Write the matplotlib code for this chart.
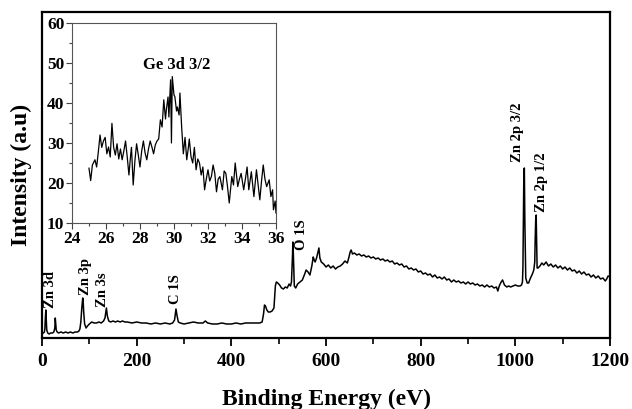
import matplotlib
matplotlib.use("Agg")
import matplotlib.pyplot as plt

plt.rcParams['font.family'] = ['Liberation Serif', 'DejaVu Serif']
plt.rcParams['font.weight'] = 'bold'

# survey spectrum (binding energy in eV, intensity in arbitrary units)
survey_ev = [
    0, 3, 5, 6, 7, 8, 9, 10, 12, 15,
    18, 22, 25, 27, 28, 29, 30, 32, 35, 40,
    45, 50, 55, 60, 65, 70, 75, 78, 80, 82,
    84, 86, 87, 88, 90, 93, 96, 100, 105, 110,
    115, 120, 125, 130, 133, 135, 136, 138, 141, 145,
    150, 155, 160, 165, 170, 175, 180, 190, 200, 210,
    220, 230, 240, 250, 260, 270, 276, 280, 283, 285,
    288, 292, 300, 310, 320, 330, 340, 345, 350, 360,
    370, 380, 390, 400, 410, 420, 430, 440, 450, 460,
    465, 468, 470, 472, 475, 478, 482, 486, 490, 493,
    495, 498, 502, 506, 510, 514, 518, 522, 525, 527,
    529, 530, 531, 533, 536, 540, 545, 550, 555, 558,
    562, 566, 570, 573, 575, 577, 580, 583, 585, 587,
    590, 595, 600, 605, 610, 615, 620, 625, 630, 635,
    640, 645, 648, 651, 653, 656, 660, 665, 670, 675,
    680, 685, 690, 695, 700, 705, 710, 715, 720, 725,
    730, 735, 740, 745, 750, 755, 760, 765, 770, 775,
    780, 785, 790, 795, 800, 805, 810, 815, 820, 825,
    830, 835, 840, 845, 850, 855, 860, 865, 870, 875,
    880, 885, 890, 895, 900, 905, 910, 915, 920, 925,
    930, 935, 940, 945, 950, 955, 960,
    963, 966, 970, 973, 977, 982, 986, 990, 995, 1000,
    1005, 1010, 1013, 1015, 1016, 1017, 1018, 1019, 1020, 1022,
    1025, 1028, 1032, 1036, 1039, 1041, 1042, 1043, 1044, 1045,
    1046, 1048, 1052, 1056, 1060, 1065, 1070, 1075, 1080, 1085,
    1090, 1095, 1100, 1105, 1110, 1115, 1120, 1125, 1130, 1135,
    1140, 1145, 1150, 1155, 1160, 1165, 1170, 1175, 1180, 1185,
    1190, 1193, 1196, 1200,
]
survey_counts = [
    5, 5, 6, 9, 20, 28, 18, 8, 5, 4,
    5, 5, 6, 10, 20, 14, 8, 6, 5, 6,
    5, 6, 5, 6, 5, 6, 6, 7, 9, 16,
    30, 40, 36, 26, 14, 10, 12, 14, 16, 15,
    15, 16, 15, 17, 20, 27, 30, 22, 17, 16,
    17, 16, 17, 16, 17, 16, 16, 15, 16, 15,
    15, 14, 15, 14, 15, 14, 15, 18, 29, 23,
    16, 15, 14, 15, 16, 15, 15, 17, 15, 14,
    14, 15, 14, 14, 15, 14, 15, 15, 15, 15,
    16, 24, 33, 32, 28, 26, 26, 27, 30, 52,
    56, 55, 53, 50, 49, 51, 50, 54, 52, 56,
    80, 96, 84, 52, 50, 54, 56, 58, 64, 68,
    66, 63, 72, 81, 78, 76, 80, 86, 90, 80,
    76, 74, 71, 73, 70, 72, 69, 71, 72, 74,
    77, 75, 80, 86, 88, 84, 85, 83, 84, 82,
    83, 81, 82, 80, 81, 79, 80, 78, 79, 77,
    78, 76, 77, 74, 75, 73, 74, 71, 72, 69,
    70, 68, 69, 66, 67, 64, 65, 63, 64, 61,
    63, 60, 61, 59, 61, 58, 59, 56, 58, 56,
    57, 55, 56, 54, 56, 54, 55, 53, 54, 52,
    53, 51, 53, 51, 52, 50, 51,
    47, 52, 56, 58, 53, 51, 52, 51, 52, 53,
    52, 52, 53, 56, 70, 120, 165, 170, 120, 60,
    55, 55, 60, 64, 68, 76, 100, 118, 123, 95,
    70, 70, 72, 75, 73, 76, 72, 74, 71, 73,
    70, 72, 69, 71, 68, 70, 67, 68, 65, 67,
    64, 66, 63, 64, 61, 63, 60, 62, 59, 60,
    57, 59, 62, 61,
]

# peak labels: text, x (eV), y (bottom of text)
peak_names = ["Zn 3d", "Zn 3p", "Zn 3s", "C 1S", "O 1S", "Zn 2p 3/2", "Zn 2p 1/2"]
peak_x = [18, 92, 128, 283, 549, 1005, 1055]
peak_y = [30, 43, 31, 34, 88, 176, 126]

# Ge 3d inset
ge_ev = [
    25.0, 25.1, 25.2, 25.35, 25.45, 25.55, 25.65, 25.75, 25.85, 25.95,
    26.05, 26.15, 26.25, 26.35, 26.45, 26.55, 26.65, 26.75, 26.85, 26.95,
    27.05, 27.15, 27.25, 27.35, 27.45, 27.5, 27.6, 27.7, 27.8, 27.9,
    28.0, 28.1, 28.2, 28.3, 28.4, 28.5, 28.6, 28.7, 28.8, 28.9,
    29.0, 29.1, 29.2, 29.3, 29.4, 29.5, 29.55, 29.65, 29.7, 29.8,
    29.85, 29.9, 30.0, 30.05, 30.15, 30.2, 30.3, 30.35, 30.45, 30.55,
    30.65, 30.75, 30.85, 30.9, 31.0, 31.1, 31.2, 31.3, 31.4, 31.5,
    31.6, 31.7, 31.8, 31.9, 32.0, 32.1, 32.2, 32.3, 32.4, 32.5,
    32.6, 32.7, 32.85, 32.95, 33.05, 33.15, 33.25, 33.4, 33.5, 33.6,
    33.75, 33.85, 33.95, 34.1, 34.2, 34.3, 34.4, 34.55, 34.7, 34.85,
    34.95, 35.05, 35.15, 35.25, 35.35, 35.45, 35.6, 35.7, 35.8, 35.85,
    35.95, 36.0,
]
ge_counts = [
    23.7, 20.6, 24.5, 25.8, 24.0, 27.8, 32.0, 28.9, 30.5, 31.4,
    27.3, 29.0, 26.5, 34.9, 28.9, 27.0, 29.8, 26.0, 28.5, 25.8,
    28.0, 30.5, 26.5, 22.0, 27.0, 28.9, 19.5, 25.5, 29.8, 27.0,
    24.0, 28.0, 30.5, 27.5, 25.8, 28.5, 30.5, 29.0, 27.3, 29.5,
    30.5, 31.0, 35.8, 34.0, 40.8, 36.0, 38.3, 41.5, 36.5, 45.8,
    30.0, 46.6, 42.0, 41.6, 38.0, 39.0, 37.0, 42.5, 34.0, 27.3,
    31.4, 25.8, 29.0, 31.0, 26.6, 25.0, 28.9, 23.3, 26.0, 25.0,
    22.0, 24.0, 18.3, 21.0, 23.3, 20.5, 21.6, 24.5, 22.4, 17.8,
    21.0, 21.6, 18.3, 23.0, 22.4, 19.0, 15.0, 21.6, 19.5, 25.0,
    19.1, 21.0, 22.4, 18.3, 21.0, 24.0, 18.3, 22.8, 16.6, 23.3,
    19.5, 15.8, 20.5, 24.5, 21.0, 19.1, 20.8, 16.6, 18.3, 13.3,
    15.5, 12.5,
]
ge_label = "Ge 3d 3/2"

fig = plt.figure(figsize=(6.32, 4.09), dpi=100)
ax = fig.add_axes([0.0665, 0.1736, 0.8987, 0.7971])
ax.plot(survey_ev, survey_counts, color='black', lw=1.1)
ax.set_xlim(0, 1200)
ax.set_ylim(0, 326)
ax.set_xticks(range(0, 1201, 200))
ax.set_xticks(range(100, 1200, 200), minor=True)
ax.set_yticks([])
ax.tick_params(axis='x', which='major', direction='out', length=6, width=1.3,
               labelsize=14, pad=5)
ax.tick_params(axis='x', which='minor', direction='out', length=4, width=1.2)
for lab in ax.get_xticklabels():
    lab.set_fontweight('bold')
for sp in ax.spines.values():
    sp.set_linewidth(1.6)
ax.set_xlabel("Binding Energy (eV)", fontsize=17, fontweight='bold', labelpad=13)
ax.set_ylabel("Intensity (a.u)", fontsize=17, fontweight='bold', labelpad=7)

for name, px, py in zip(peak_names, peak_x, peak_y):
    ax.text(px, py, name, rotation=90, ha='center', va='bottom',
            fontsize=10.5, fontweight='bold')

ins = fig.add_axes([0.1139, 0.4548, 0.3228, 0.4890])
ins.plot(ge_ev, ge_counts, color='black', lw=0.9)
ins.set_xlim(24, 36)
ins.set_ylim(10, 60)
ins.set_xticks(range(24, 37, 2))
ins.set_xticks(range(25, 36, 2), minor=True)
ins.set_yticks(range(10, 61, 10))
ins.set_yticks(range(15, 60, 10), minor=True)
ins.tick_params(which='major', direction='out', length=4, width=0.8,
                labelsize=12.5, pad=1.5, color='#444444')
ins.tick_params(which='minor', direction='out', length=2.5, width=0.8,
                color='#444444')
for lab in ins.get_xticklabels() + ins.get_yticklabels():
    lab.set_fontweight('bold')
for sp in ins.spines.values():
    sp.set_linewidth(0.8)
    sp.set_color('#555555')
ins.text(30.15, 47.6, ge_label, ha='center', va='bottom', fontsize=12,
         fontweight='bold')

fig.savefig("out.png", dpi=100)
